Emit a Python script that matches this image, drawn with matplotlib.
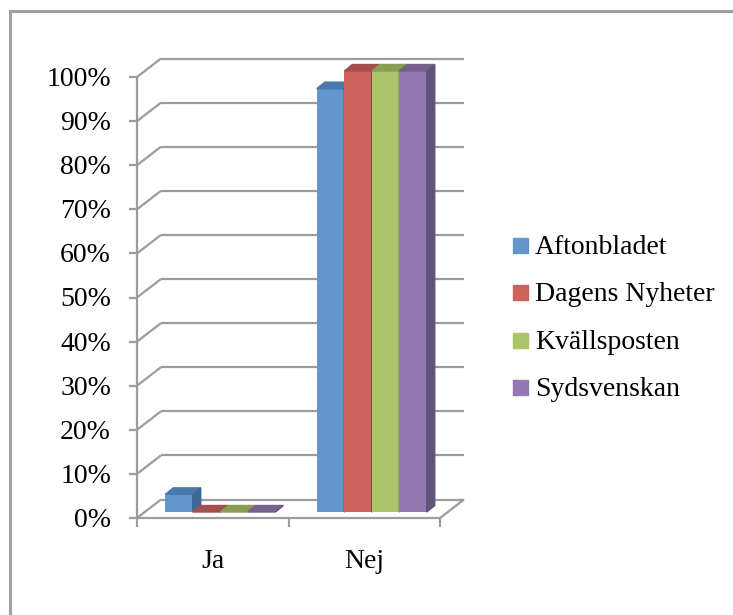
import matplotlib
matplotlib.use("Agg")
import matplotlib.pyplot as plt
from matplotlib.patches import Polygon, Rectangle

# Data
categories = ["Ja", "Nej"]
series_names = ["Aftonbladet", "Dagens Nyheter", "Kvällsposten", "Sydsvenskan"]
aftonbladet = [0.04, 0.96]
dagens_nyheter = [0.0, 1.0]
kvallsposten = [0.0, 1.0]
sydsvenskan = [0.0, 1.0]
yticks = [0.0, 0.1, 0.2, 0.3, 0.4, 0.5, 0.6, 0.7, 0.8, 0.9, 1.0]
ytick_labels = ["0%", "10%", "20%", "30%", "40%", "50%", "60%", "70%", "80%", "90%", "100%"]

# Styles (front face, top face, side face)
front_colors = ["#6296CC", "#CE625D", "#AAC46A", "#9378B2"]
top_colors = ["#4B78AA", "#A5504C", "#889E55", "#76608E"]
side_colors = ["#3E6896", "#8E433F", "#73874A", "#63547C"]
grid_color = "#9C9C9C"
font = "Liberation Serif"
fs = 20

W, H = 733, 615
fig = plt.figure(figsize=(W / 100, H / 100), dpi=100)

# outer chart border (only left/top visible)
fig.add_artist(Rectangle((10 / W, -0.1), 1.5, (H - 11) / H + 0.1, fill=False,
                         edgecolor="#A0A0A0", lw=2.2, transform=fig.transFigure))

# axes = front plane of the 3D box
ax = fig.add_axes([137 / W, (H - 518) / H, 303 / W, 441 / H])
ax.set_xlim(-0.5, 1.5)
ax.set_ylim(0, 1)
ax.axis("off")

ux = 2 / 303  # data units per pixel
uy = 1 / 441

bx, by = 24 * ux, 18.5 * uy      # back wall offset
ox, oy = 7.5 * ux, 6 * uy        # bar front plane offset
dx, dy = 8 * ux, 6.5 * uy        # bar depth

line_kw = dict(color=grid_color, lw=1.6, clip_on=False, zorder=1, solid_capstyle="butt")

# walls and gridlines
for t in yticks:
    ax.plot([-0.5, -0.5 + bx], [t, t + by], **line_kw)
    ax.plot([-0.5 + bx, 1.5 + bx], [t + by, t + by], **line_kw)
    ax.plot([-0.5 - 8 * ux, -0.5], [t, t], **line_kw)
ax.plot([1.5, 1.5 + bx], [0, by], **line_kw)
ax.plot([-0.5, 1.5], [0, 0], **line_kw)
ax.plot([-0.5, -0.5], [0, 1], **line_kw)
for xt in [-0.5, 0.5, 1.5]:
    ax.plot([xt, xt], [0, -9 * uy], **line_kw)

# tick labels
for t, lab in zip(yticks, ytick_labels):
    ax.text(-0.5 - 26 * ux, t - 2.5 * uy, lab, ha="right", va="center",
            fontsize=fs, family=font, clip_on=False)
for i, cat in enumerate(categories):
    ax.text(i, -43 * uy, cat, ha="center", va="center", fontsize=fs, family=font)

# bars
all_values = [aftonbladet, dagens_nyheter, kvallsposten, sydsvenskan]
group_w = 110 * ux
bw = group_w / len(all_values)
for j, vals in enumerate(all_values):
    lefts = [i - group_w / 2 + j * bw + ox for i in range(len(categories))]
    ax.bar(lefts, vals, width=bw, bottom=oy, align="edge", color=front_colors[j],
           clip_on=False, zorder=3)
    for xl, v in zip(lefts, vals):
        top = v + oy
        xr = xl + bw
        ax.add_patch(Polygon([(xl, top), (xr, top), (xr + dx, top + dy), (xl + dx, top + dy)],
                             closed=True, color=top_colors[j], clip_on=False, zorder=3))
        ax.add_patch(Polygon([(xr, oy), (xr + dx, oy + dy), (xr + dx, top + dy), (xr, top)],
                             closed=True, color=side_colors[j], clip_on=False, zorder=3))

# legend
for k, name in enumerate(series_names):
    yc = 245.5 + k * 47.3
    fig.add_artist(Rectangle((513 / W, (H - yc - 7.5) / H), 15 / W, 15 / H,
                             color=front_colors[k], transform=fig.transFigure))
    fig.text(535 / W, (H - yc - 2) / H, name, ha="left", va="center",
             fontsize=fs, family=font)

fig.savefig("out.png", dpi=100)
